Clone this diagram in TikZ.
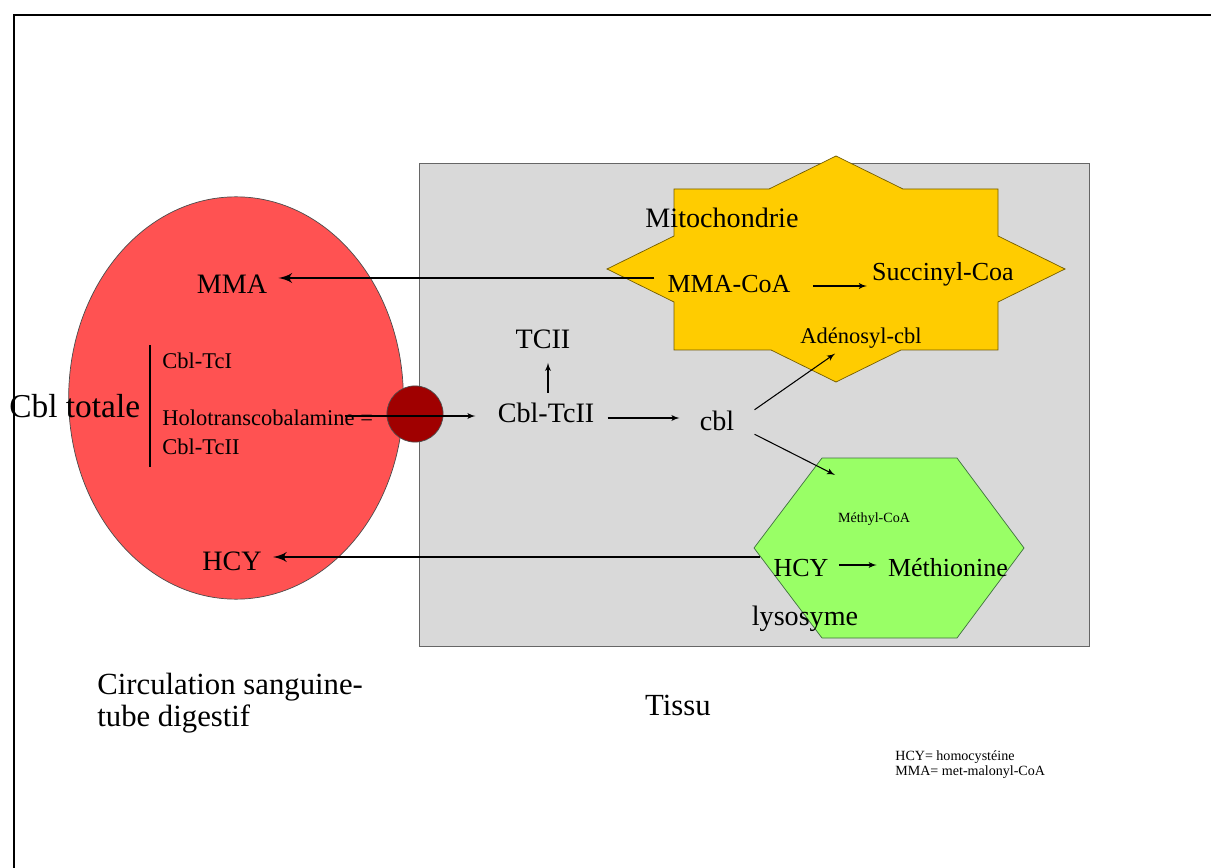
\documentclass[tikz,border=0pt]{standalone}
\usepackage{fontspec}
\setmainfont{Liberation Serif}
\usepackage{tikz}
\usetikzlibrary{shapes,arrows}
\usetikzlibrary{shapes.geometric}
\usetikzlibrary{calc}
\definecolor{blood}{HTML}{FF5252}
\definecolor{pore}{HTML}{A00000}
\definecolor{tissue}{HTML}{D9D9D9}
\definecolor{mito}{HTML}{FFCC00}
\definecolor{lyso}{HTML}{99FF66}
\tikzstyle{txt} = [inner sep=0pt, font=\fontsize{16}{18}\selectfont]
\tikzstyle{mid txt} = [inner sep=0pt, font=\fontsize{14.8}{17}\selectfont]
\tikzstyle{small txt} = [inner sep=0pt, font=\fontsize{12.8}{15}\selectfont]
\tikzstyle{tiny txt} = [inner sep=0pt, font=\fontsize{8}{9}\selectfont]
\tikzstyle{big txt} = [inner sep=0pt, font=\fontsize{17.5}{18}\selectfont]
\tikzstyle{flow} = [draw, ->, line width=0.6pt]
\tikzstyle{bigflow} = [draw, ->, line width=1.7pt]

\begin{document}
\begin{tikzpicture}[x=0.02cm, y=-0.02cm, >=latex']
    \useasboundingbox (0,0) rectangle (1211,868);
    % slide frame
    \draw[line width=1.2pt] (1211,15) -- (14,15) -- (14,868);

    % We start by placing the compartments
    \draw[draw=black!60, fill=tissue] (419,163) rectangle (1089,646);
    \node[ellipse, draw=black!70, fill=blood, minimum width=190.5pt,
        minimum height=229pt] (blood) at (236,398) {};
    \node[circle, draw=black!70, fill=pore, minimum size=32pt,
        inner sep=0pt] (pore) at (415,414) {};
    \draw[draw=mito!45!black, fill=mito] (607,269) -- (674,236) -- (674,189)
        -- (769,189) -- (836,156) -- (903,189) -- (998,189) -- (998,236)
        -- (1065,269) -- (998,302) -- (998,350) -- (901,350) -- (836,382)
        -- (771,350) -- (674,350) -- (674,302) -- cycle;
    \draw[draw=green!25!black!75, fill=lyso] (754,548) -- (822,458)
        -- (957,458) -- (1024,548) -- (957,638) -- (822,638) -- cycle;

    % blood side
    \node[txt] (mma) at (232,284) {MMA};
    \node[txt] (hcy) at (232,561) {HCY};
    \node[inner sep=0pt, font=\fontsize{19}{21}\selectfont, anchor=west]
        (total) at (9,406) {Cbl totale};
    \draw[line width=0.6pt] (150,345) -- (150,467);
    \node[small txt, anchor=west] (tci) at (162,361) {Cbl-TcI};
    \node[small txt, anchor=west] (holo) at (162,418) {Holotranscobalamine =};
    \node[small txt, anchor=west] (tcii left) at (162,447) {Cbl-TcII};

    % tissue side
    \node[txt] (tcii) at (543,339) {TCII};
    \node[txt] (cbltcii) at (546,413) {Cbl-TcII};
    \node[txt] (cbl) at (717,421) {cbl};
    \node[txt] (mito) at (722,218) {Mitochondrie};
    \node[mid txt] (mmacoa) at (729,284) {MMA-CoA};
    \node[mid txt] (succ) at (943,274) {Succinyl-Coa};
    \node[small txt] (adeno) at (861,338) {Adénosyl-cbl};
    \node[tiny txt] (methyl) at (874,519) {Méthyl-CoA};
    \node[mid txt] (hcy lyso) at (801,568) {HCY};
    \node[mid txt] (methio) at (948,568) {Méthionine};
    \node[txt] (lyso) at (805,619) {lysosyme};

    \node[big txt, anchor=north west, align=left] (circ) at (97,673)
        {Circulation sanguine-\\tube digestif};
    \node[big txt] (tissu) at (678,705) {Tissu};
    \node[tiny txt, anchor=north west, align=left] (legend) at (895,750)
        {HCY= homocystéine\\MMA= met-malonyl-CoA};

    \coordinate (holo out) at (345,416);
    \coordinate (hcy out) at (760,557);
    \coordinate (lyso in) at (835,475);

    % Once the nodes are placed, connecting them is easy.
    \draw[bigflow] ($(mmacoa.west)+(-13,-6)$) -- ($(mma.east)+(11,-6)$);
    \draw[bigflow] (hcy out) -- ($(hcy.east)+(11,-4)$);
    \draw[flow] (holo out) -- ($(cbltcii.west)+(-22,3)$);
    \draw[flow] ($(cbltcii.north -| tcii)+(5,-10)$) -- ($(tcii.south)+(5,14)$);
    \draw[flow] ($(cbltcii.east)+(13,5)$) -- ($(cbltcii.east -| cbl.west)+(-20,5)$);
    \draw[flow] ($(cbl.north east)+(20,-1)$) -- ($(adeno.south west)+(35,5)$);
    \draw[flow] ($(cbl.south east)+(20,3)$) -- (lyso in);
    \draw[flow] ($(mmacoa.east)+(22,2)$) -- ($(mmacoa.east -| succ.west)+(-5,2)$);
    \draw[flow] ($(hcy lyso.east)+(10,-3)$) -- ($(methio.west)+(-11,-3)$);
\end{tikzpicture}
\end{document}
